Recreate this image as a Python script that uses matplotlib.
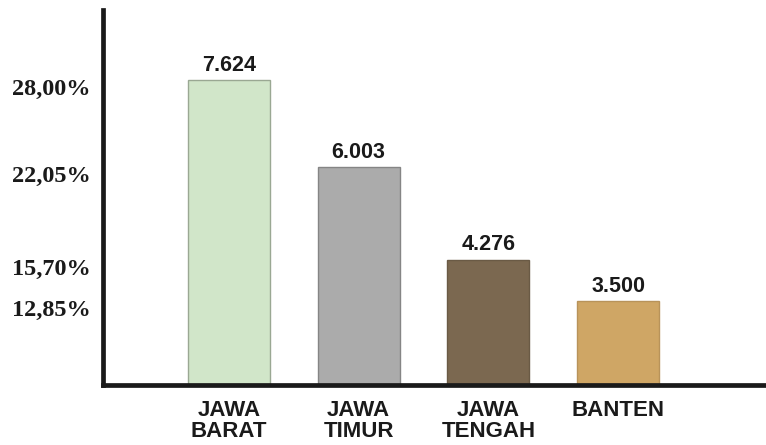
import matplotlib.pyplot as plt
import matplotlib.transforms as mtransforms

provinsi = ["JAWA\nBARAT", "JAWA\nTIMUR", "JAWA\nTENGAH", "BANTEN"]
jumlah = ["7.624", "6.003", "4.276", "3.500"]
persen = [28.00, 22.05, 15.70, 12.85]
persen_label = ["28,00%", "22,05%", "15,70%", "12,85%"]
warna = ["#d1e6c9", "#ababab", "#7b6850", "#cfa665"]
tepi = ["#9aa893", "#858585", "#6a5a45", "#b8935a"]

ymin, ymax = 7.1, 32.8

fig = plt.figure(figsize=(7.66, 4.45), dpi=100)
ax = fig.add_axes([103 / 766, 1 - 385 / 445, 1 - 103 / 766, 375 / 445])

x = range(len(provinsi))
bars = ax.bar(x, [p - ymin for p in persen], bottom=ymin, width=0.632,
              color=warna, edgecolor=tepi, linewidth=1.0, zorder=2)

for b, t in zip(bars, jumlah):
    ax.annotate(t, (b.get_x() + b.get_width() / 2, b.get_y() + b.get_height()),
                xytext=(0, 3), textcoords="offset points", ha="center", va="bottom",
                fontsize=15.5, fontweight="bold", family="Liberation Sans", color="#1a1a1a")

ax.set_xlim(-0.971, 4.14)
ax.set_ylim(ymin, ymax)

ax.set_xticks(list(x))
ax.set_xticklabels(provinsi, fontsize=16, fontweight="bold", family="Liberation Sans",
                   linespacing=1.0, color="#1a1a1a")
ax.set_yticks(persen)
ax.set_yticklabels(persen_label, fontsize=17.5, fontweight="bold", family="Liberation Serif",
                   color="#1a1a1a")
ax.tick_params(axis="x", length=0, pad=11)
ax.tick_params(axis="y", length=0, pad=9)

shift = mtransforms.ScaledTranslation(0, -5 / 72, fig.dpi_scale_trans)
for lab in ax.get_yticklabels():
    lab.set_transform(lab.get_transform() + shift)

for s in ["top", "right"]:
    ax.spines[s].set_visible(False)
for s in ["left", "bottom"]:
    ax.spines[s].set_linewidth(3.4)
    ax.spines[s].set_color("#1a1a1a")
    ax.spines[s].set_zorder(3)

fig.savefig("out.png", dpi=100)
